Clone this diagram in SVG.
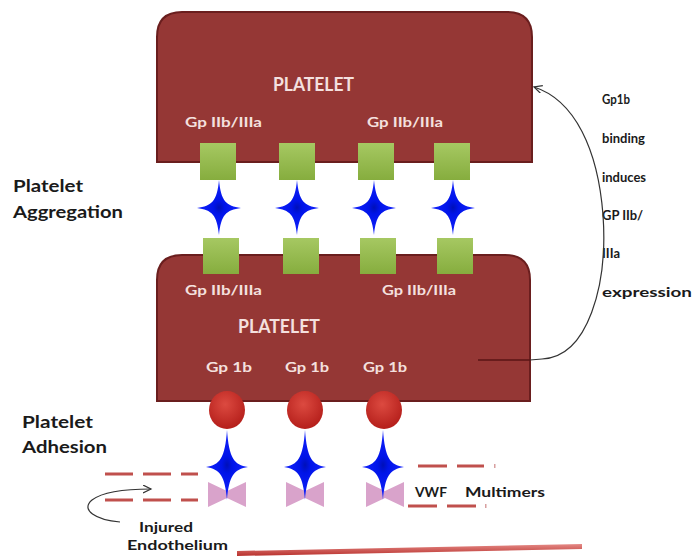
<svg xmlns="http://www.w3.org/2000/svg" width="693" height="556" viewBox="0 0 693 556">
<defs>
<style>
.plt{fill:#953735;stroke:#6a1e1e;stroke-width:2}
.sq{fill:url(#gGreen)}
.star{fill:url(#gBlue)}
.bead{fill:url(#gRed)}
.bow{fill:#d9a3cb}
.dash{stroke:#c0504d;stroke-width:3;fill:none}
.wt{font-family:Lato,"Open Sans","Liberation Sans",sans-serif;font-weight:bold;fill:#f4e0df}
.bt{font-family:Lato,"Open Sans","Liberation Sans",sans-serif;font-weight:bold;fill:#1a1a1a}
.conn{fill:none;stroke:#333;stroke-width:1.2}
</style>
<linearGradient id="gGreen" x1="0" y1="0" x2="0" y2="1">
<stop offset="0" stop-color="#a6c862"/>
<stop offset="1" stop-color="#86ad3e"/>
</linearGradient>
<radialGradient id="gBlue" cx="0.5" cy="0.5" r="0.5">
<stop offset="0" stop-color="#0010b8"/>
<stop offset="0.25" stop-color="#0014e8"/>
<stop offset="1" stop-color="#1424ff"/>
</radialGradient>
<radialGradient id="gRed" cx="0.45" cy="0.35" r="0.65">
<stop offset="0" stop-color="#dc4a40"/>
<stop offset="1" stop-color="#b51f1b"/>
</radialGradient>
<linearGradient id="gLine" x1="0" y1="0" x2="0" y2="1">
<stop offset="0" stop-color="#e58a86"/>
<stop offset="1" stop-color="#b8302c"/>
</linearGradient>
<marker id="arr" markerWidth="10" markerHeight="10" refX="8" refY="4" orient="auto" markerUnits="userSpaceOnUse">
<path d="M0,0 L8,4 L0,8" fill="none" stroke="#333" stroke-width="1.2"/>
</marker>
<path id="starA" d="M0,-28 C2,-7 7,-2 22,0 C7,2 2,7 0,27 C-2,7 -7,2 -22,0 C-7,-2 -2,-7 0,-28 Z"/>
<path id="starB" d="M0,-37 C2,-9 7,-2 21,0 C7,2 2,9 0,33 C-2,9 -7,2 -21,0 C-7,-2 -2,-9 0,-37 Z"/>
<path id="bowtie" d="M-19,482 L0,491 L19,482 L19,507 L0,498 L-19,507 Z"/>
</defs>
<rect width="693" height="556" fill="#ffffff"/>

<g id="platelet-top">
<path class="plt" d="M157,162 L157,37 Q157,12 182,12 L507,12 Q532,12 532,37 L532,162 Z"/>
<text class="wt" x="273" y="91" font-size="18" textLength="81" lengthAdjust="spacingAndGlyphs">PLATELET</text>
<text class="wt" x="185" y="127" font-size="14" textLength="77" lengthAdjust="spacingAndGlyphs">Gp IIb/IIIa</text>
<text class="wt" x="367" y="127" font-size="14" textLength="76" lengthAdjust="spacingAndGlyphs">Gp IIb/IIIa</text>
</g>

<g id="platelet-bottom">
<path class="plt" d="M157,401 L157,280 Q157,255 182,255 L505,255 Q530,255 530,280 L530,401 Z"/>
<text class="wt" x="185" y="295" font-size="14" textLength="77" lengthAdjust="spacingAndGlyphs">Gp IIb/IIIa</text>
<text class="wt" x="382" y="295" font-size="14" textLength="74" lengthAdjust="spacingAndGlyphs">Gp IIb/IIIa</text>
<text class="wt" x="238" y="333" font-size="18" textLength="82" lengthAdjust="spacingAndGlyphs">PLATELET</text>
<text class="wt" x="206" y="372" font-size="14" textLength="46" lengthAdjust="spacingAndGlyphs">Gp 1b</text>
<text class="wt" x="285" y="372" font-size="14" textLength="44" lengthAdjust="spacingAndGlyphs">Gp 1b</text>
<text class="wt" x="363" y="372" font-size="14" textLength="44" lengthAdjust="spacingAndGlyphs">Gp 1b</text>
</g>

<g id="receptors-top">
<rect class="sq" x="200" y="143" width="36" height="37"/>
<rect class="sq" x="279" y="143" width="36" height="37"/>
<rect class="sq" x="358" y="143" width="36" height="37"/>
<rect class="sq" x="434" y="143" width="36" height="37"/>
</g>
<g id="receptors-bottom">
<rect class="sq" x="203" y="238" width="36" height="36"/>
<rect class="sq" x="283" y="238" width="36" height="36"/>
<rect class="sq" x="360" y="238" width="36" height="36"/>
<rect class="sq" x="437" y="238" width="36" height="36"/>
</g>
<g id="fibrinogen-stars">
<use href="#starA" class="star" x="219" y="208"/>
<use href="#starA" class="star" x="297" y="208"/>
<use href="#starA" class="star" x="374" y="208"/>
<use href="#starA" class="star" x="453" y="208"/>
</g>

<g id="gp1b-beads">
<ellipse class="bead" cx="227" cy="410" rx="18" ry="19"/>
<ellipse class="bead" cx="305" cy="410" rx="18" ry="19"/>
<ellipse class="bead" cx="384" cy="410" rx="18" ry="19"/>
</g>
<g id="vwf-bowties">
<use href="#bowtie" class="bow" x="227"/>
<use href="#bowtie" class="bow" x="305"/>
<use href="#bowtie" class="bow" x="385"/>
</g>
<g id="vwf-stars">
<use href="#starB" class="star" x="227" y="467"/>
<use href="#starB" class="star" x="305" y="467"/>
<use href="#starB" class="star" x="383" y="467"/>
</g>

<g id="vwf-multimers">
<line class="dash" x1="105" y1="474" x2="198" y2="474" stroke-dasharray="28 10"/>
<line class="dash" x1="105" y1="500" x2="198" y2="500" stroke-dasharray="28 10"/>
<line class="dash" x1="418" y1="466" x2="484" y2="466" stroke-dasharray="29 10"/>
<line class="dash" x1="408" y1="506" x2="476" y2="506" stroke-dasharray="29 10"/>
<rect x="494" y="464" width="1.5" height="4" fill="#d8a0a0"/>
<rect x="485" y="504" width="1.5" height="4" fill="#d8a0a0"/>
<text class="bt" x="415" y="497" font-size="14" textLength="32" lengthAdjust="spacingAndGlyphs">VWF</text>
<text class="bt" x="465" y="497" font-size="14" textLength="80" lengthAdjust="spacingAndGlyphs">Multimers</text>
</g>

<g id="endothelium">
<path d="M237,551 L582,544 L582,549 L237,556 Z" fill="url(#gLine)"/>
<text class="bt" x="139" y="532" font-size="14" textLength="54" lengthAdjust="spacingAndGlyphs">Injured</text>
<text class="bt" x="127" y="550" font-size="14" textLength="101" lengthAdjust="spacingAndGlyphs">Endothelium</text>
</g>

<g id="labels">
<text class="bt" x="13" y="192" font-size="17" textLength="70" lengthAdjust="spacingAndGlyphs">Platelet</text>
<text class="bt" x="13" y="218" font-size="17" textLength="110" lengthAdjust="spacingAndGlyphs">Aggregation</text>
<text class="bt" x="22" y="428" font-size="17" textLength="71" lengthAdjust="spacingAndGlyphs">Platelet</text>
<text class="bt" x="22" y="453" font-size="17" textLength="85" lengthAdjust="spacingAndGlyphs">Adhesion</text>
</g>

<g id="note">
<text class="bt" x="602" y="104" font-size="14" textLength="28" lengthAdjust="spacingAndGlyphs">Gp1b</text>
<text class="bt" x="602" y="143" font-size="14" textLength="43" lengthAdjust="spacingAndGlyphs">binding</text>
<text class="bt" x="602" y="182" font-size="14" textLength="44" lengthAdjust="spacingAndGlyphs">induces</text>
<text class="bt" x="602" y="220" font-size="14" textLength="41" lengthAdjust="spacingAndGlyphs">GP IIb/</text>
<text class="bt" x="602" y="258" font-size="14" textLength="18" lengthAdjust="spacingAndGlyphs">IIIa</text>
<text class="bt" x="602" y="297" font-size="14" textLength="90" lengthAdjust="spacingAndGlyphs">expression</text>
</g>

<g id="connectors">
<path d="M478,360 L530,360" fill="none" stroke="#5a1515" stroke-width="1.5"/>
<path class="conn" d="M530,360 L542,359 C588,357 608,285 603,215 C598,150 575,100 534,87" marker-end="url(#arr)"/>
<path class="conn" d="M120,522 C96,520 80,510 92,500 C104,491 128,489 151,489" marker-end="url(#arr)"/>
</g>
</svg>
